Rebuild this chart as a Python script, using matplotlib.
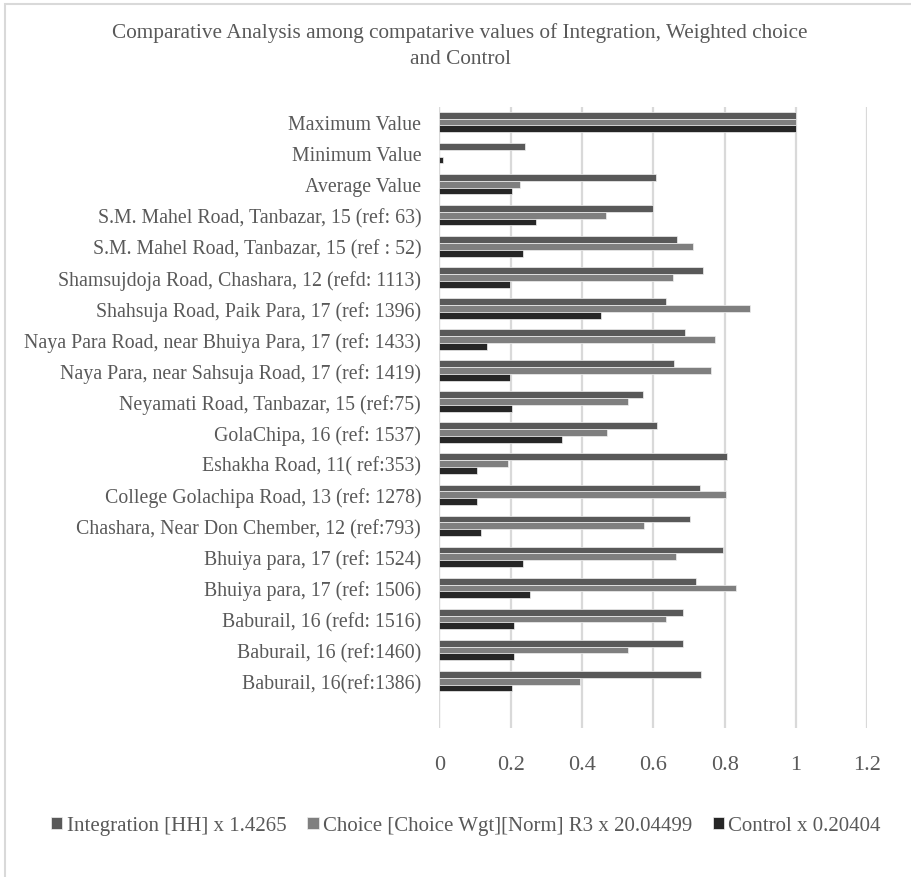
import matplotlib.pyplot as plt
import matplotlib.patches as mpatches
import numpy as np

# === Données (de bas en haut, comme dans le graphique) ===
categories = [
    "Baburail, 16(ref:1386)",
    "Baburail, 16 (ref:1460)",
    "Baburail, 16 (refd: 1516)",
    "Bhuiya para, 17 (ref: 1506)",
    "Bhuiya para, 17 (ref: 1524)",
    "Chashara, Near Don Chember, 12 (ref:793)",
    "College Golachipa Road, 13 (ref: 1278)",
    "Eshakha Road, 11( ref:353)",
    "GolaChipa, 16 (ref: 1537)",
    "Neyamati Road, Tanbazar, 15 (ref:75)",
    "Naya Para, near Sahsuja Road, 17 (ref: 1419)",
    "Naya Para Road, near Bhuiya Para, 17 (ref: 1433)",
    "Shahsuja Road, Paik Para, 17 (ref: 1396)",
    "Shamsujdoja Road, Chashara, 12 (refd: 1113)",
    "S.M. Mahel Road, Tanbazar, 15 (ref : 52)",
    "S.M. Mahel Road, Tanbazar, 15 (ref: 63)",
    "Average Value",
    "Minimum Value",
    "Maximum Value",
]

integration = [0.734, 0.683, 0.683, 0.721, 0.795, 0.703, 0.732, 0.808, 0.609, 0.570,
               0.658, 0.688, 0.637, 0.739, 0.666, 0.599, 0.608, 0.239, 1.0]
choice = [0.395, 0.530, 0.636, 0.831, 0.664, 0.573, 0.805, 0.193, 0.471, 0.528,
          0.762, 0.774, 0.872, 0.656, 0.712, 0.466, 0.225, 0.0, 1.0]
control = [0.203, 0.209, 0.209, 0.253, 0.235, 0.117, 0.107, 0.107, 0.345, 0.203,
           0.198, 0.135, 0.453, 0.199, 0.236, 0.271, 0.203, 0.009, 1.0]

series_labels = ["Integration [HH] x 1.4265",
                 "Choice [Choice Wgt][Norm] R3 x 20.04499",
                 "Control x 0.20404"]
x_ticks = [0, 0.2, 0.4, 0.6, 0.8, 1, 1.2]
title = ("Comparative Analysis among compatarive values of Integration, Weighted choice\n"
         "and Control")

colors = ["#595959", "#7f7f7f", "#262626"]
text_gray = "#595959"
grid_gray = "#d9d9d9"

plt.rcParams['font.family'] = ['Liberation Serif', 'DejaVu Serif']

fig = plt.figure(figsize=(9.11, 8.78), dpi=100)
ax = fig.add_axes([439.3 / 911, 149.3 / 878, (867.3 - 439.3) / 911, (770.5 - 149.3) / 878])

y = np.arange(len(categories))
h = 0.22
for vals, off, col, lab in zip([integration, choice, control], [h, 0, -h], colors, series_labels):
    ax.barh(y + off, vals, height=h, color=col, edgecolor="#f0f0f0", linewidth=0.5,
            label=lab, zorder=3)

ax.set_xlim(0, 1.2)
ax.set_ylim(-1.5, len(categories) - 0.5)
ax.set_xticks(x_ticks)
ax.set_xticklabels([f"{t:g}" for t in x_ticks])
ax.set_yticks(y)
ax.set_yticklabels(categories)

ax.xaxis.grid(True, color=grid_gray, linewidth=1.6, zorder=0)
ax.set_axisbelow(True)
for s in ax.spines.values():
    s.set_visible(False)
ax.axvline(0, color=grid_gray, linewidth=1.6, zorder=1)
ax.tick_params(axis='x', length=0, pad=20, labelsize=16, labelcolor=text_gray)
ax.tick_params(axis='y', length=0, pad=13, labelsize=14.3, labelcolor=text_gray)

fig.text(460 / 911, 1 - 46 / 878, title, ha="center", va="center", fontsize=15.3,
         color=text_gray, linespacing=1.5)

leg = fig.legend(loc="center", bbox_to_anchor=(466 / 911, 1 - 827 / 878), ncol=3,
                 frameon=False, fontsize=15, handlelength=0.55, handleheight=0.55,
                 handletextpad=0.2, columnspacing=1.0, labelcolor=text_gray)

# bordure grise de la zone graphique
fig.patches.append(mpatches.Rectangle((5 / 911, -0.05), 1.1, 1 - 5 / 878 + 0.05,
                                      transform=fig.transFigure, fill=False,
                                      edgecolor=grid_gray, linewidth=1.5))

fig.savefig("out.png", dpi=100)
